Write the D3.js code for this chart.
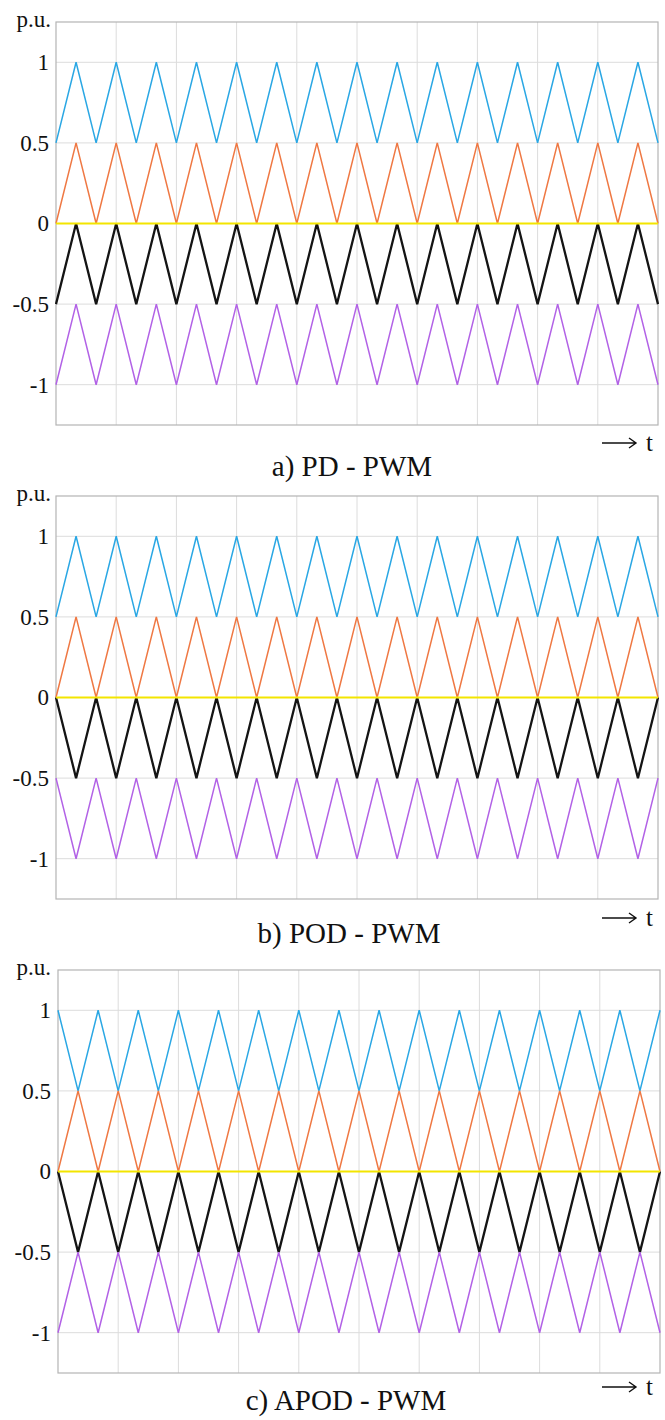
<!DOCTYPE html>
<html>
<head>
<meta charset="utf-8">
<script src="https://cdn.jsdelivr.net/npm/d3@7"></script>
<style>
  html, body { margin: 0; padding: 0; background: #fff; }
  svg { display: block; }
</style>
</head>
<body>
<svg id="chart" width="665" height="1420"></svg>
<script>
// Carrier-based PWM schemes for a five-level inverter: four triangular carriers
// stacked in bands, shown with the zero reference line.
const carrierCycles = 15;                         // carrier periods across the window
const carrierBands = [[0.5, 1], [0, 0.5], [-0.5, 0], [-1, -0.5]];
const carrierNames = ["upper", "upper-middle", "lower-middle", "lower"];
const carrierColors = ["#2aa7e4", "#ef7843", "#141414", "#b262e6"];
const carrierWidths = [1.5, 1.5, 2.3, 1.5];
const schemeTitles = ["a) PD - PWM", "b) POD - PWM", "c) APOD - PWM"];
// whether each carrier begins at its band's top (true) or bottom (false)
const pdStartsHigh = [false, false, false, false];
const podStartsHigh = [false, false, true, true];
const apodStartsHigh = [true, false, true, false];
const referenceLevel = 0;
const referenceColor = "#f3e500";
const yTicks = [-1, -0.5, 0, 0.5, 1];
const yTickLabels = ["-1", "-0.5", "0", "0.5", "1"];
const yDomain = [-1.25, 1.25];
const xGridTicks = [1.5, 3, 4.5, 6, 7.5, 9, 10.5, 12, 13.5];
const unitLabel = "p.u.";
const timeLabel = "t";

const schemes = [pdStartsHigh, podStartsHigh, apodStartsHigh];
const SERIF = "'Liberation Serif', 'Times New Roman', Tinos, serif";

// panel frames (pixels)
const panels = [
  { left: 56, right: 658, top: 22,  bottom: 425,  arrowY: 443,  titleY: 476,  titleX: 352 },
  { left: 56, right: 658, top: 496, bottom: 899,  arrowY: 918,  titleY: 943,  titleX: 349 },
  { left: 58, right: 660, top: 970, bottom: 1373, arrowY: 1387, titleY: 1410, titleX: 346 }
];

const svg = d3.select("#chart");

// a carrier's corner points: alternating band edges every half period
function carrierVertices(band, startsHigh) {
  const pts = [];
  for (let k = 0; k <= carrierCycles * 2; k++) {
    const high = (k % 2 === 0) === startsHigh;
    pts.push({ t: k / 2, v: high ? band[1] : band[0] });
  }
  return pts;
}

function serifText(sel, size) {
  return sel.style("font-family", SERIF).style("font-size", size + "px").style("fill", "#111");
}

panels.forEach((p, i) => {
  const g = svg.append("g");
  const x = d3.scaleLinear().domain([0, carrierCycles]).range([p.left, p.right]);
  const y = d3.scaleLinear().domain(yDomain).range([p.bottom, p.top]);

  // grid
  g.append("g").selectAll("line.v").data(xGridTicks).join("line")
    .attr("x1", d => x(d)).attr("x2", d => x(d))
    .attr("y1", p.top).attr("y2", p.bottom)
    .attr("stroke", "#dcdcdc").attr("stroke-width", 1);
  g.append("g").selectAll("line.h").data(yTicks).join("line")
    .attr("x1", p.left).attr("x2", p.right)
    .attr("y1", d => y(d)).attr("y2", d => y(d))
    .attr("stroke", "#dcdcdc").attr("stroke-width", 1);

  // frame
  g.append("rect")
    .attr("x", p.left).attr("y", p.top)
    .attr("width", p.right - p.left).attr("height", p.bottom - p.top)
    .attr("fill", "none").attr("stroke", "#b4b4b4").attr("stroke-width", 1.2);

  // y axis labels
  const yAxis = d3.axisLeft(y).tickValues(yTicks)
    .tickFormat((d, j) => yTickLabels[j]).tickSize(0).tickPadding(7);
  const ay = g.append("g").attr("transform", `translate(${p.left},0)`).call(yAxis);
  ay.select(".domain").remove();
  serifText(ay.selectAll("text"), 23);

  serifText(g.append("text").attr("x", 51).attr("y", p.top + 5)
    .attr("text-anchor", "end"), 23).text(unitLabel);

  // carriers
  const line = d3.line().x(d => x(d.t)).y(d => y(d.v));
  const startsHigh = schemes[i];
  carrierBands.forEach((band, c) => {
    g.append("path")
      .datum(carrierVertices(band, startsHigh[c]))
      .attr("class", "carrier " + carrierNames[c])
      .attr("d", line)
      .attr("fill", "none")
      .attr("stroke", carrierColors[c])
      .attr("stroke-width", carrierWidths[c])
      .attr("stroke-linejoin", "miter");
  });

  // zero reference
  g.append("line")
    .attr("x1", x(0)).attr("x2", x(carrierCycles))
    .attr("y1", y(referenceLevel)).attr("y2", y(referenceLevel))
    .attr("stroke", referenceColor).attr("stroke-width", 2);

  // time arrow
  const ax0 = 602, ax1 = 636;
  g.append("path")
    .attr("d", `M${ax0},${p.arrowY}H${ax1}M${ax1 - 7},${p.arrowY - 5}L${ax1},${p.arrowY}L${ax1 - 7},${p.arrowY + 5}`)
    .attr("fill", "none").attr("stroke", "#111").attr("stroke-width", 1.4);
  serifText(g.append("text").attr("x", 646).attr("y", p.arrowY + 8), 25).text(timeLabel);

  // scheme title
  serifText(g.append("text").attr("x", p.titleX).attr("y", p.titleY)
    .attr("text-anchor", "middle"), 29).text(schemeTitles[i]);
});
</script>
</body>
</html>
